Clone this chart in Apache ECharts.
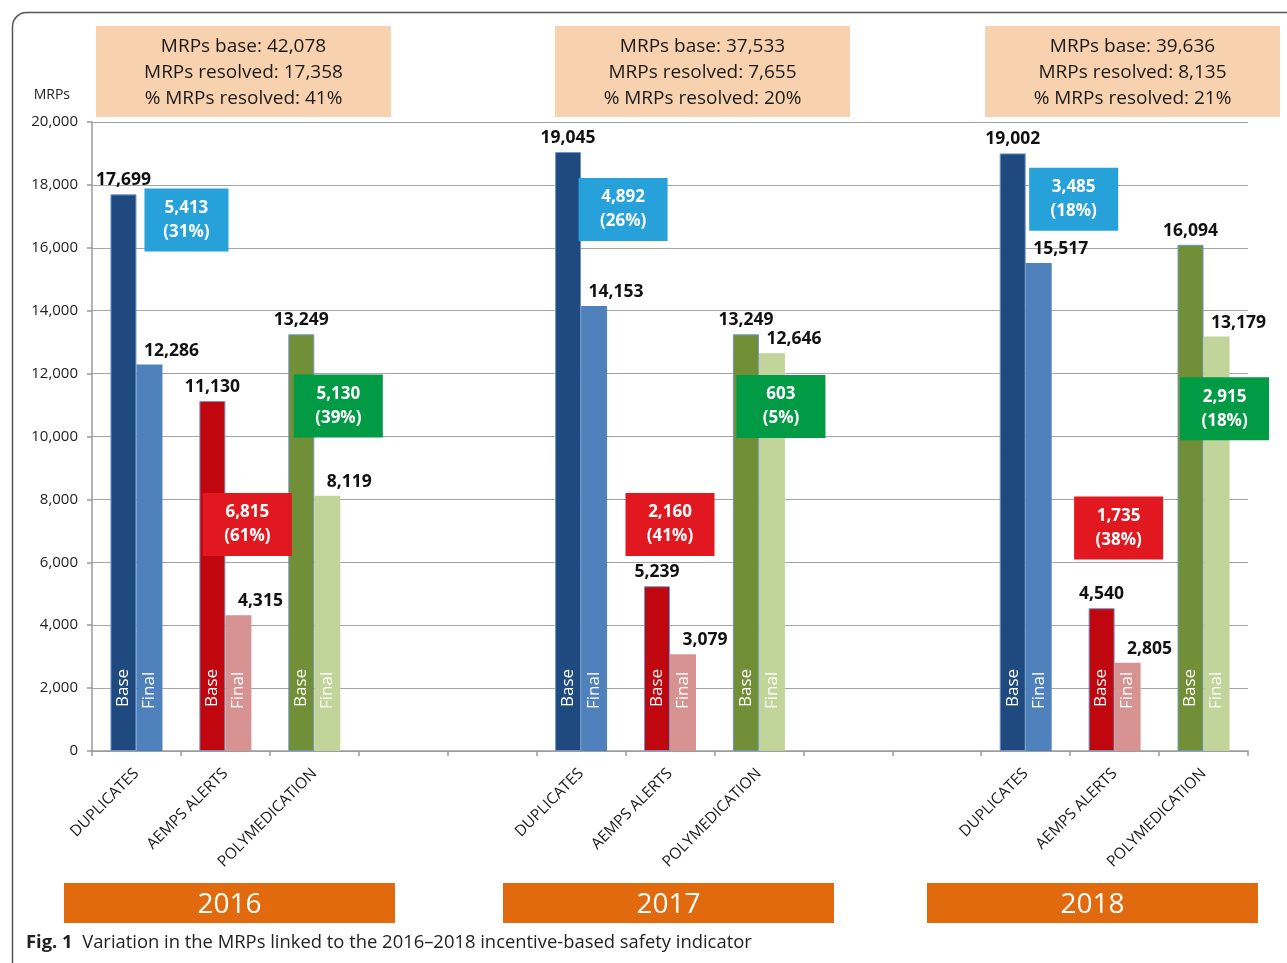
<!DOCTYPE html>
<html>
<head>
<meta charset="utf-8">
<script src="https://cdn.jsdelivr.net/npm/echarts@6/dist/echarts.min.js"></script>
<style>
html,body{margin:0;padding:0;background:#fff;}
#chart{width:1287px;height:963px;}
</style>
</head>
<body>
<div id="chart"></div>
<script>
// ---- data ----
const categories = ['DUPLICATES','AEMPS ALERTS','POLYMEDICATION','','','DUPLICATES','AEMPS ALERTS','POLYMEDICATION','','','DUPLICATES','AEMPS ALERTS','POLYMEDICATION'];
const baseValues  = [17699, 11130, 13249, null, null, 19045, 5239, 13249, null, null, 19002, 4540, 16094];
const finalValues = [12286,  4315,  8119, null, null, 14153, 3079, 12646, null, null, 15517, 2805, 13179];
const years = ['2016', '2017', '2018'];
const yearCategoryIndex = [[0,1,2],[5,6,7],[10,11,12]];
const yMin = 0, yMax = 20000, yInterval = 2000;

// ---- styles / layout ----
const FONT = '"Open Sans", "Noto Sans", sans-serif';
const baseColors  = ['#1F4A80', '#C0070F', '#718F37'];
const finalColors = ['#4F81BD', '#D69391', '#C1D499'];
const calloutColors = ['#26A1DA', '#E1181F', '#019A45'];
// callout anchor level (in axis units) and horizontal shift (px, from the Final bar centre)
const calloutLevel = [16880, 7200, 10970, 17220, 7200, 10950, 17540, 7090, 10880];
const calloutShift = [37, 9, 11, 29, -13, 9, 35, -9, 8];
const calloutWidth = [84, 89, 89, 89, 89, 89, 89, 89, 89];
const headerBoxes = [[96,26,295,91],[555,26,295,91],[985,26,295,91]];
const yearBoxes = [[64,883,331,40],[503,883,331,40],[927,883,331,40]];

const fmt = v => v.toLocaleString('en-US');

function colored(values, palette) {
  return values.map((v, i) => v == null ? null : {
    value: v,
    itemStyle: { color: palette[i % 5] }
  });
}

// callouts from differences
const markData = [];
let k = 0;
yearCategoryIndex.forEach(idxs => {
  idxs.forEach((ci, m) => {
    const d = baseValues[ci] - finalValues[ci];
    const p = Math.round(d / baseValues[ci] * 100);
    markData.push({
      coord: [ci, calloutLevel[k]],
      symbol: 'rect',
      symbolSize: [calloutWidth[k], 63],
      symbolOffset: [calloutShift[k], 0],
      itemStyle: { color: calloutColors[m] },
      label: {
        show: true, position: 'inside', color: '#fff', fontFamily: FONT,
        fontWeight: 'bold', fontSize: 17, lineHeight: 24,
        formatter: fmt(d) + '\n(' + p + '%)'
      }
    });
    k++;
  });
});

const graphics = [];
graphics.push({
  type: 'rect', left: 10, top: 10, z: -10,
  shape: { width: 1320, height: 1000, r: 14 },
  style: { fill: 'none', stroke: '#555', lineWidth: 1.5 }
});
yearCategoryIndex.forEach((idxs, y) => {
  const baseSum = idxs.reduce((s, i) => s + baseValues[i], 0);
  const resSum = idxs.reduce((s, i) => s + baseValues[i] - finalValues[i], 0);
  const pct = Math.round(resSum / baseSum * 100);
  const hb = headerBoxes[y];
  graphics.push({
    type: 'rect', left: hb[0], top: hb[1],
    shape: { width: hb[2], height: hb[3] },
    style: { fill: '#F8D1AF' }
  });
  graphics.push({
    type: 'text', x: hb[0] + hb[2] / 2, y: hb[1] + hb[3] / 2 + 1,
    style: {
      text: 'MRPs base: ' + fmt(baseSum) + '\nMRPs resolved: ' + fmt(resSum) + '\n% MRPs resolved: ' + pct + '%',
      fill: '#1a1a1a', font: '19px ' + FONT, lineHeight: 26,
      align: 'center', verticalAlign: 'middle'
    }
  });
  const yb = yearBoxes[y];
  graphics.push({
    type: 'rect', left: yb[0], top: yb[1],
    shape: { width: yb[2], height: yb[3] },
    style: { fill: '#E06A0D' }
  });
  graphics.push({
    type: 'text', x: yb[0] + yb[2] / 2, y: yb[1] + yb[3] / 2 + 2,
    style: {
      text: years[y], fill: '#fff', font: '28px ' + FONT,
      align: 'center', verticalAlign: 'middle'
    }
  });
});
graphics.push({
  type: 'text', left: 26, top: 934,
  style: {
    text: '{b|Fig. 1}  Variation in the MRPs linked to the 2016–2018 incentive-based safety indicator',
    fill: '#222', font: '18.4px ' + FONT,
    rich: { b: { fontWeight: 'bold', fontSize: 18.4, fontFamily: FONT, fill: '#222' } }
  }
});

const barCommon = { barWidth: 26, barGap: '0%', barCategoryGap: '40%' };

const option = {
  animation: false,
  backgroundColor: '#fff',
  grid: { left: 92, right: 39, top: 122, bottom: 212, containLabel: false },
  xAxis: [{
    type: 'category', data: categories,
    axisLine: { lineStyle: { color: '#9a9a9a', width: 1.5 } },
    axisTick: { show: true, length: 5, lineStyle: { color: '#9a9a9a', width: 1.5 } },
    axisLabel: { rotate: 45, interval: 0, margin: 20, color: '#1a1a1a', fontFamily: FONT, fontSize: 15.5 }
  }, {
    type: 'category', data: categories, show: false
  }],
  yAxis: {
    type: 'value', min: yMin, max: yMax, interval: yInterval,
    name: 'MRPs', nameLocation: 'end', nameGap: 20,
    nameTextStyle: { color: '#222', fontFamily: FONT, fontSize: 14, align: 'right', padding: [0, 22, 0, 0] },
    axisLine: { show: true, lineStyle: { color: '#9a9a9a', width: 1.5 } },
    axisTick: { show: true, length: 5, lineStyle: { color: '#9a9a9a', width: 1.5 } },
    axisLabel: { color: '#222', fontFamily: FONT, fontSize: 15, margin: 14,
      formatter: v => fmt(v) },
    splitLine: { lineStyle: { color: '#a5a5a5', width: 1.2 } }
  },
  series: [{
    name: 'Base', type: 'bar', xAxisIndex: 0, ...barCommon,
    data: colored(baseValues, baseColors),
    itemStyle: { borderColor: '#6F95C6', borderWidth: 1 },
    label: { show: true, position: 'top', distance: 5, color: '#111', fontFamily: FONT,
      fontWeight: 'bold', fontSize: 17.5, formatter: p => fmt(p.value) }
  }, {
    name: 'Final', type: 'bar', xAxisIndex: 0, ...barCommon,
    data: colored(finalValues, finalColors),
    label: { show: true, position: 'top', distance: 5, offset: [22, 0], color: '#111', fontFamily: FONT,
      fontWeight: 'bold', fontSize: 17.5, formatter: p => fmt(p.value) },
    markPoint: { data: markData, z: 10 }
  }, {
    name: 'BaseText', type: 'bar', xAxisIndex: 1, ...barCommon,
    data: baseValues, itemStyle: { color: 'rgba(0,0,0,0)' }, z: 5, silent: true,
    label: { show: true, position: 'insideBottom', distance: 44, rotate: 90, align: 'left',
      verticalAlign: 'middle', color: '#fff', fontFamily: FONT, fontSize: 17, formatter: 'Base' }
  }, {
    name: 'FinalText', type: 'bar', xAxisIndex: 1, ...barCommon,
    data: finalValues, itemStyle: { color: 'rgba(0,0,0,0)' }, z: 5, silent: true,
    label: { show: true, position: 'insideBottom', distance: 42, rotate: 90, align: 'left',
      verticalAlign: 'middle', color: '#fff', fontFamily: FONT, fontSize: 17, formatter: 'Final' }
  }],
  graphic: graphics
};

const chart = echarts.init(document.getElementById('chart'), null, { renderer: 'canvas' });
chart.setOption(option);
</script>
</body>
</html>
